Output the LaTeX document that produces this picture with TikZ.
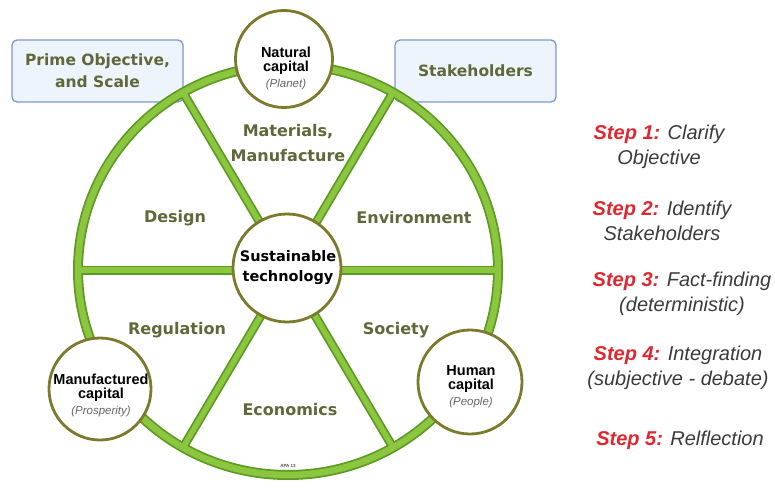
\documentclass[tikz,border=0pt]{standalone}
\usepackage{fontspec}
\setmainfont{Liberation Sans}
\newfontfamily\dvs{DejaVu Sans}
\definecolor{rimlight}{HTML}{8CC63E}
\definecolor{rimdark}{HTML}{5C9A24}
\definecolor{olivering}{HTML}{7C7A2C}
\definecolor{labelc}{HTML}{5F6839}
\definecolor{boxfill}{HTML}{EEF4FC}
\definecolor{boxborder}{HTML}{8097CF}
\definecolor{stepred}{HTML}{E0262E}
\definecolor{stepgray}{HTML}{3A3A3A}
\newcommand{\capsub}[1]{{\mdseries\itshape\fontsize{11.5}{14}\selectfont\color{black!60}#1}}
\begin{document}
\begin{tikzpicture}[x=1pt,y=-1pt,
  seglabel/.style={font=\dvs\bfseries\fontsize{16}{25}\selectfont, text=labelc, align=center, inner sep=0pt},
  boxlabel/.style={font=\dvs\bfseries\fontsize{15.5}{22}\selectfont, text=labelc, align=center},
  capcircle/.style={circle, draw=olivering, line width=2.8pt, fill=white, inner sep=0pt},
  captext/.style={align=center, inner sep=0pt, font=\bfseries\fontsize{14.5}{14}\selectfont},
  boxs/.style={draw=boxborder, fill=boxfill, rounded corners=5pt, line width=1.3pt, minimum width=171pt, minimum height=62pt, inner sep=0pt},
  steptext/.style={font=\itshape\fontsize{20}{25}\selectfont, text=stepgray, align=center, inner sep=0pt},
  rimd/.style={draw=rimdark, line width=10pt},
  riml/.style={draw=rimlight, line width=6.5pt},
  spoked/.style={draw=rimdark, line width=9pt},
  spokel/.style={draw=rimlight, line width=5.5pt}
]
\useasboundingbox (0,0) rectangle (775,489);

% boxes
\node[boxs] (prime) at (97.5,71) {};
\node[boxlabel] (primet) at (prime.center) {Prime Objective,\\and Scale};
\node[boxs, minimum width=161pt] (stake) at (475.5,71) {};
\node[boxlabel] (staket) at (stake.center) {Stakeholders};

% wheel
\coordinate (hub) at (288,270);
\coordinate (r0) at (498,270);
\coordinate (r60) at (393,92.5);
\coordinate (r120) at (183,92.5);
\coordinate (r180) at (78,270);
\coordinate (r240) at (183,447.5);
\coordinate (r300) at (393,447.5);

\path[rimd] (hub) ellipse [x radius=210pt, y radius=205pt];
\foreach \r in {r0,r60,r120,r180,r240,r300} \path[spoked] (hub) -- (\r);
\path[riml] (hub) ellipse [x radius=210pt, y radius=205pt];
\foreach \r in {r0,r60,r120,r180,r240,r300} \path[spokel] (hub) -- (\r);

% circles
\node[capcircle, minimum size=108pt] (center) at (287,268) {};
\node[captext, font=\dvs\bfseries\fontsize{14.5}{20}\selectfont] (centert) at (288,268) {Sustainable\\technology};
\node[capcircle, minimum size=97pt] (natural) at (284,59) {};
\node[captext] (naturalt) at (286,68) {Natural\\capital\\[2pt]\capsub{(Planet)}};
\node[capcircle, minimum size=102pt] (manu) at (100,389) {};
\node[captext] (manut) at (101,395) {Manufactured\\capital\\[2pt]\capsub{(Prosperity)}};
\node[capcircle, minimum size=104pt] (human) at (470,382) {};
\node[captext] (humant) at (471,387) {Human\\capital\\[2pt]\capsub{(People)}};

% segment labels
\node[seglabel] (mat) at (288,143) {Materials,\\Manufacture};
\node[seglabel] (design) at (175,218) {Design};
\node[seglabel] (env) at (414,218) {Environment};
\node[seglabel] (reg) at (177,330) {Regulation};
\node[seglabel] (soc) at (396,330) {Society};
\node[seglabel] (eco) at (290,410) {Economics};
\node[font=\bfseries\fontsize{4.5}{5}\selectfont, text=black!70] (apa) at (288,466) {APA 13};

% steps
\node[steptext] (s1) at (659,147) {\textcolor{stepred}{\bfseries Step 1:} Clarify\\Objective};
\node[steptext] (s2) at (662,221) {\textcolor{stepred}{\bfseries Step 2:} Identify\\Stakeholders};
\node[steptext] (s3) at (682,294) {\textcolor{stepred}{\bfseries Step 3:} Fact-finding\\(deterministic)};
\node[steptext] (s4) at (678,368) {\textcolor{stepred}{\bfseries Step 4:} Integration\\(subjective - debate)};
\node[steptext, anchor=base] (s5) at (680,445) {\textcolor{stepred}{\bfseries Step 5:} Relflection};
\end{tikzpicture}
\end{document}
